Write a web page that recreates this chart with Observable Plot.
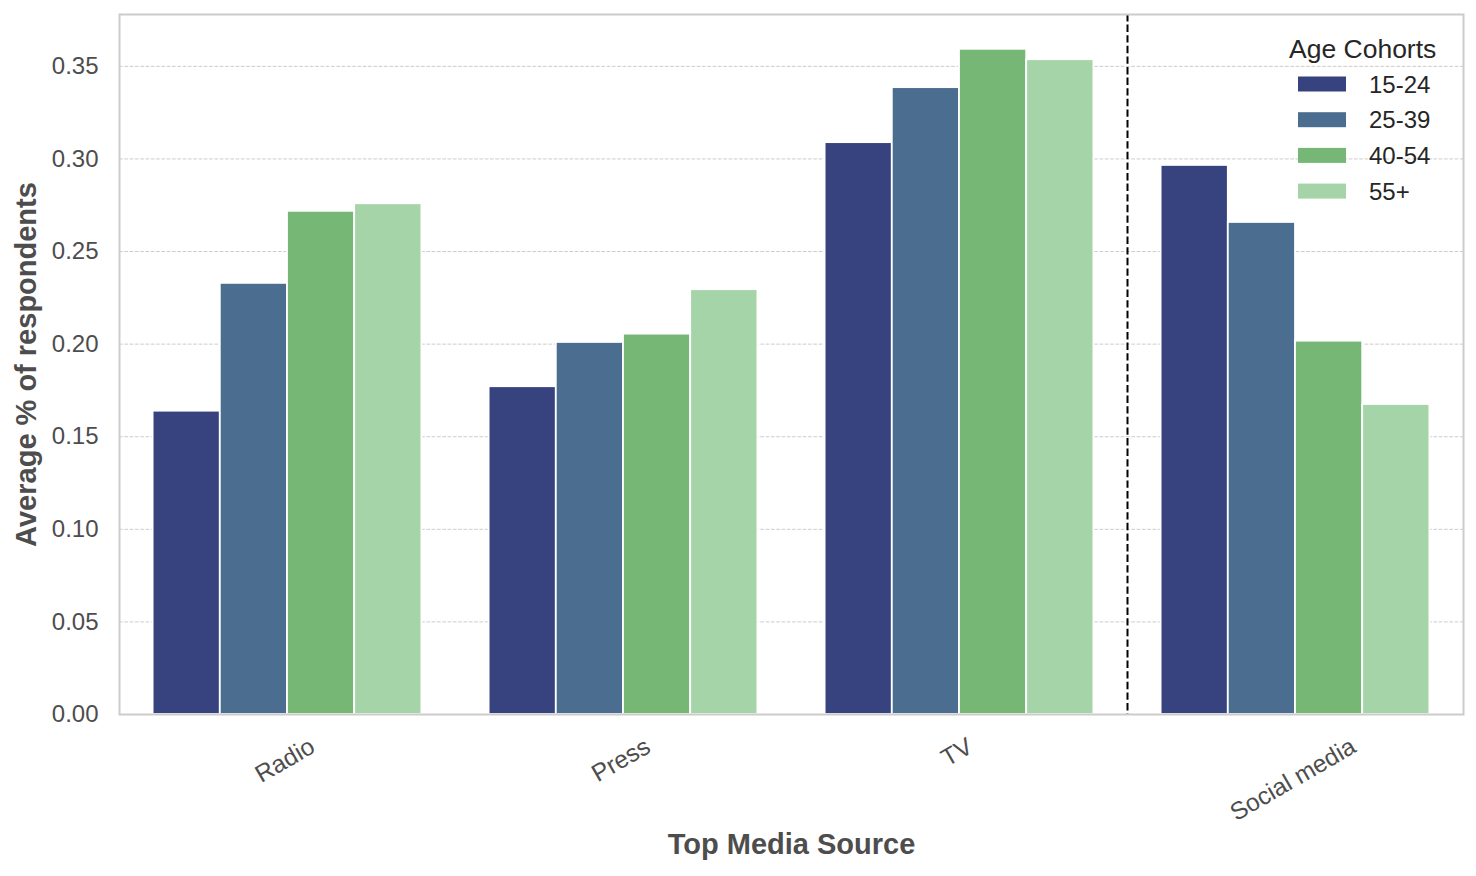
<!DOCTYPE html>
<html>
<head>
<meta charset="utf-8">
<script src="https://cdn.jsdelivr.net/npm/d3@7"></script>
<script src="https://cdn.jsdelivr.net/npm/@observablehq/plot@0.6"></script>
<style>
  html, body { margin: 0; padding: 0; background: white; }
  #wrap { position: relative; width: 1476px; height: 876px; }
  #legend { position: absolute; left: 0; top: 0; pointer-events: none; }
</style>
</head>
<body>
<div id="wrap"></div>
<script>
// ---- data ----
const categories = ["Radio", "Press", "TV", "Social media"];
const cohorts = ["15-24", "25-39", "40-54", "55+"];
const v15_24 = [0.1638, 0.1770, 0.3088, 0.2965];
const v25_39 = [0.2328, 0.2009, 0.3385, 0.2657];
const v40_54 = [0.2717, 0.2054, 0.3592, 0.2016];
const v55plus = [0.2758, 0.2294, 0.3536, 0.1674];
const cohortColors = ["#36437f", "#4a6d90", "#76b776", "#a5d4a9"];
const yTicks = [0, 0.05, 0.10, 0.15, 0.20, 0.25, 0.30, 0.35];
const dividerBefore = "Social media";
const xLabel = "Top Media Source";
const yLabel = "Average % of respondents";
const legendTitle = "Age Cohorts";

// ---- build table ----
const series = [v15_24, v25_39, v40_54, v55plus];
const groupWidth = 0.8, barW = groupWidth / cohorts.length;
const rows = [];
categories.forEach((c, ci) => {
  cohorts.forEach((k, ki) => {
    const x1 = ci - groupWidth / 2 + ki * barW;
    rows.push({media: c, cohort: k, value: series[ki][ci], x1, x2: x1 + barW});
  });
});

const FONT = "'Liberation Sans', Arial, Helvetica, sans-serif";
const TXT = "#4d4d4d";
const canvas = document.createElement("canvas");
const ctx = canvas.getContext("2d");
ctx.font = `24.5px ${FONT}`;
const measure = s => ctx.measureText(s).width;

const catLabels = categories.map((c, i) =>
  Plot.text([c], {
    x: () => i, text: d => d, frameAnchor: "bottom", lineAnchor: "middle", rotate: -30,
    dx: -2.5, dy: 30 + measure(c) / 4, fontSize: 24.5, fill: TXT, textAnchor: "middle"
  })
);

const chart = Plot.plot({
  width: 1476, height: 876,
  marginTop: 14, marginRight: 13, marginBottom: 162, marginLeft: 119,
  style: {fontFamily: FONT, background: "white", overflow: "visible"},
  x: {type: "linear", domain: [-0.5, categories.length - 0.5], axis: null},
  y: {domain: [0, 0.378]},
  color: {domain: cohorts, range: cohortColors},
  marks: [
    Plot.gridY(yTicks.filter(t => t > 0), {stroke: "#cccccc", strokeOpacity: 1, strokeWidth: 1, strokeDasharray: "3.7,1.6"}),
    Plot.rect(rows, {x1: "x1", x2: "x2", y1: 0, y2: "value", fill: "cohort", stroke: "white", strokeWidth: 1.8}),
    Plot.ruleX([categories.indexOf(dividerBefore) - 0.5], {stroke: "black", strokeWidth: 2, strokeDasharray: "7.4,3.2"}),
    Plot.axisY({ticks: yTicks, tickFormat: d3.format(".2f"), tickSize: 0, tickPadding: 21, fontSize: 24, fill: TXT, label: null}),
    ...catLabels,
    Plot.text([xLabel], {text: d => d, frameAnchor: "bottom", lineAnchor: "middle", textAnchor: "middle", dy: 130, fontSize: 29, fontWeight: "bold", fill: TXT}),
    Plot.text([yLabel], {text: d => d, frameAnchor: "left", lineAnchor: "middle", textAnchor: "middle", dx: -93, rotate: -90, fontSize: 29, fontWeight: "bold", fill: TXT}),
    Plot.frame({stroke: "#cccccc", strokeWidth: 2})
  ]
});
document.getElementById("wrap").appendChild(chart);

// ---- legend (overlay) ----
const lg = d3.select("#wrap").append("svg").attr("id", "legend")
  .attr("width", 1476).attr("height", 876)
  .style("font-family", FONT);
lg.append("text").attr("x", 1289).attr("y", 57.5)
  .attr("font-size", 26.5).attr("fill", "#262626").text(legendTitle);
cohorts.forEach((k, i) => {
  const cy = 84 + i * 35.7;
  lg.append("rect").attr("x", 1298).attr("y", cy - 7.5).attr("width", 48).attr("height", 15)
    .attr("fill", cohortColors[i]);
  lg.append("text").attr("x", 1369).attr("y", cy).attr("dy", "0.36em")
    .attr("font-size", 24).attr("fill", "#262626").text(k);
});
</script>
</body>
</html>
